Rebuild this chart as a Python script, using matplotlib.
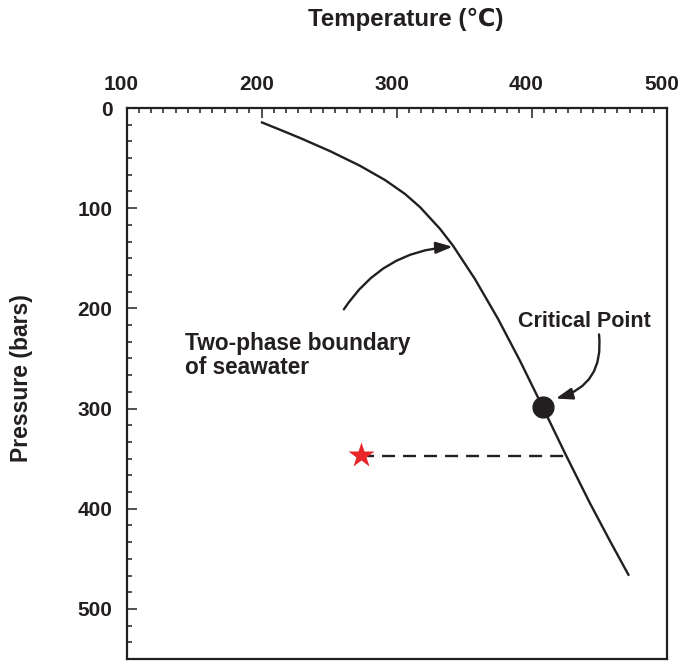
import matplotlib
matplotlib.use('Agg')
import matplotlib.pyplot as plt
import matplotlib.transforms as mtransforms
from matplotlib.ticker import FixedLocator

# two-phase boundary of seawater
temp = [199.6, 213.7, 228.5, 250.7, 273.0, 291.5, 306.3, 317.4, 332.2, 341.9,
        358.1, 375.2, 391.5, 408.5, 424.8, 443.3, 458.1, 472.2]
pres = [14.0, 21.7, 29.9, 43.0, 57.7, 71.9, 85.8, 98.9, 120.6, 137.5,
        170.7, 210.5, 252.4, 299.1, 344.6, 394.5, 432.1, 466.9]

crit_t, crit_p = 408.5, 298
star_t, star_p = 273.5, 346
dash_p = 347
dash_end_t = 426

x_major = [100, 200, 300, 400, 500]
y_major = [0, 100, 200, 300, 400, 500]

ink = '#231f20'
plt.rcParams['font.family'] = ['Liberation Sans', 'DejaVu Sans']
plt.rcParams['font.weight'] = 'bold'

fig = plt.figure(figsize=(6.81, 6.61), dpi=100)
ax = fig.add_axes([126.5 / 681, 2 / 661, 540 / 681, 551 / 661])
ax.set_xlim(100, 500)
ax.set_ylim(550, 0)

ax.plot(temp, pres, color=ink, lw=1.7, solid_capstyle='butt',
        solid_joinstyle='round', zorder=3)
ax.plot([star_t, dash_end_t], [dash_p, dash_p], color=ink, lw=1.7,
        linestyle=(0, (5.5, 3.4)), zorder=2)
ax.plot(crit_t, crit_p, 'o', color=ink, ms=15, zorder=4)
ax.plot(star_t, star_p, '*', color='#e8262a', ms=19, mec='none', zorder=5)

# arrows
ax.annotate('', xy=(341.6, 138.5), xytext=(261, 201),
            arrowprops=dict(arrowstyle='-|>,head_length=1.0,head_width=0.35',
                            connectionstyle='arc3,rad=-0.25', color=ink,
                            lw=1.7, shrinkA=0, shrinkB=0, mutation_scale=10))
ax.annotate('', xy=(418, 290), xytext=(450, 226),
            arrowprops=dict(arrowstyle='-|>,head_length=1.0,head_width=0.35',
                            connectionstyle='arc3,rad=-0.42', color=ink,
                            lw=1.7, shrinkA=0, shrinkB=0, mutation_scale=10))

ax.text(143.3, 247, 'Two-phase boundary\nof seawater', fontsize=16.3,
        color=ink, ha='left', va='center', linespacing=1.05)
ax.text(390, 219, 'Critical Point', fontsize=15.5, color=ink,
        ha='left', va='baseline')

# ticks
ax.xaxis.set_major_locator(FixedLocator(x_major))
ax.xaxis.set_minor_locator(FixedLocator(
    [m + k * 100 / 11 for m in x_major[:-1] for k in range(1, 11)]))
ax.yaxis.set_major_locator(FixedLocator(y_major))
ax.yaxis.set_minor_locator(FixedLocator([i * 100 / 6 for i in range(34)]))
ax.tick_params(which='both', direction='in', top=True, bottom=False,
               left=True, right=False, labeltop=True, labelbottom=False,
               color=ink, width=1.1, labelsize=15, labelcolor=ink)
ax.tick_params(which='major', length=7, pad=10)
ax.tick_params(which='minor', length=3.5)
shift = mtransforms.ScaledTranslation(-5 / 100, 0, fig.dpi_scale_trans)
for lab in ax.get_xticklabels(which='major'):
    lab.set_transform(lab.get_transform() + shift)
for s in ax.spines.values():
    s.set_linewidth(1.6)
    s.set_color(ink)

fig.text(406 / 681, 1 - 19 / 661, 'Temperature (℃)', fontsize=17.3,
         color=ink, ha='center', va='center')
fig.text(22 / 681, 1 - 378 / 661, 'Pressure (bars)', fontsize=16.5,
         color=ink, ha='center', va='center', rotation=90)

fig.savefig('out.png', dpi=100)
